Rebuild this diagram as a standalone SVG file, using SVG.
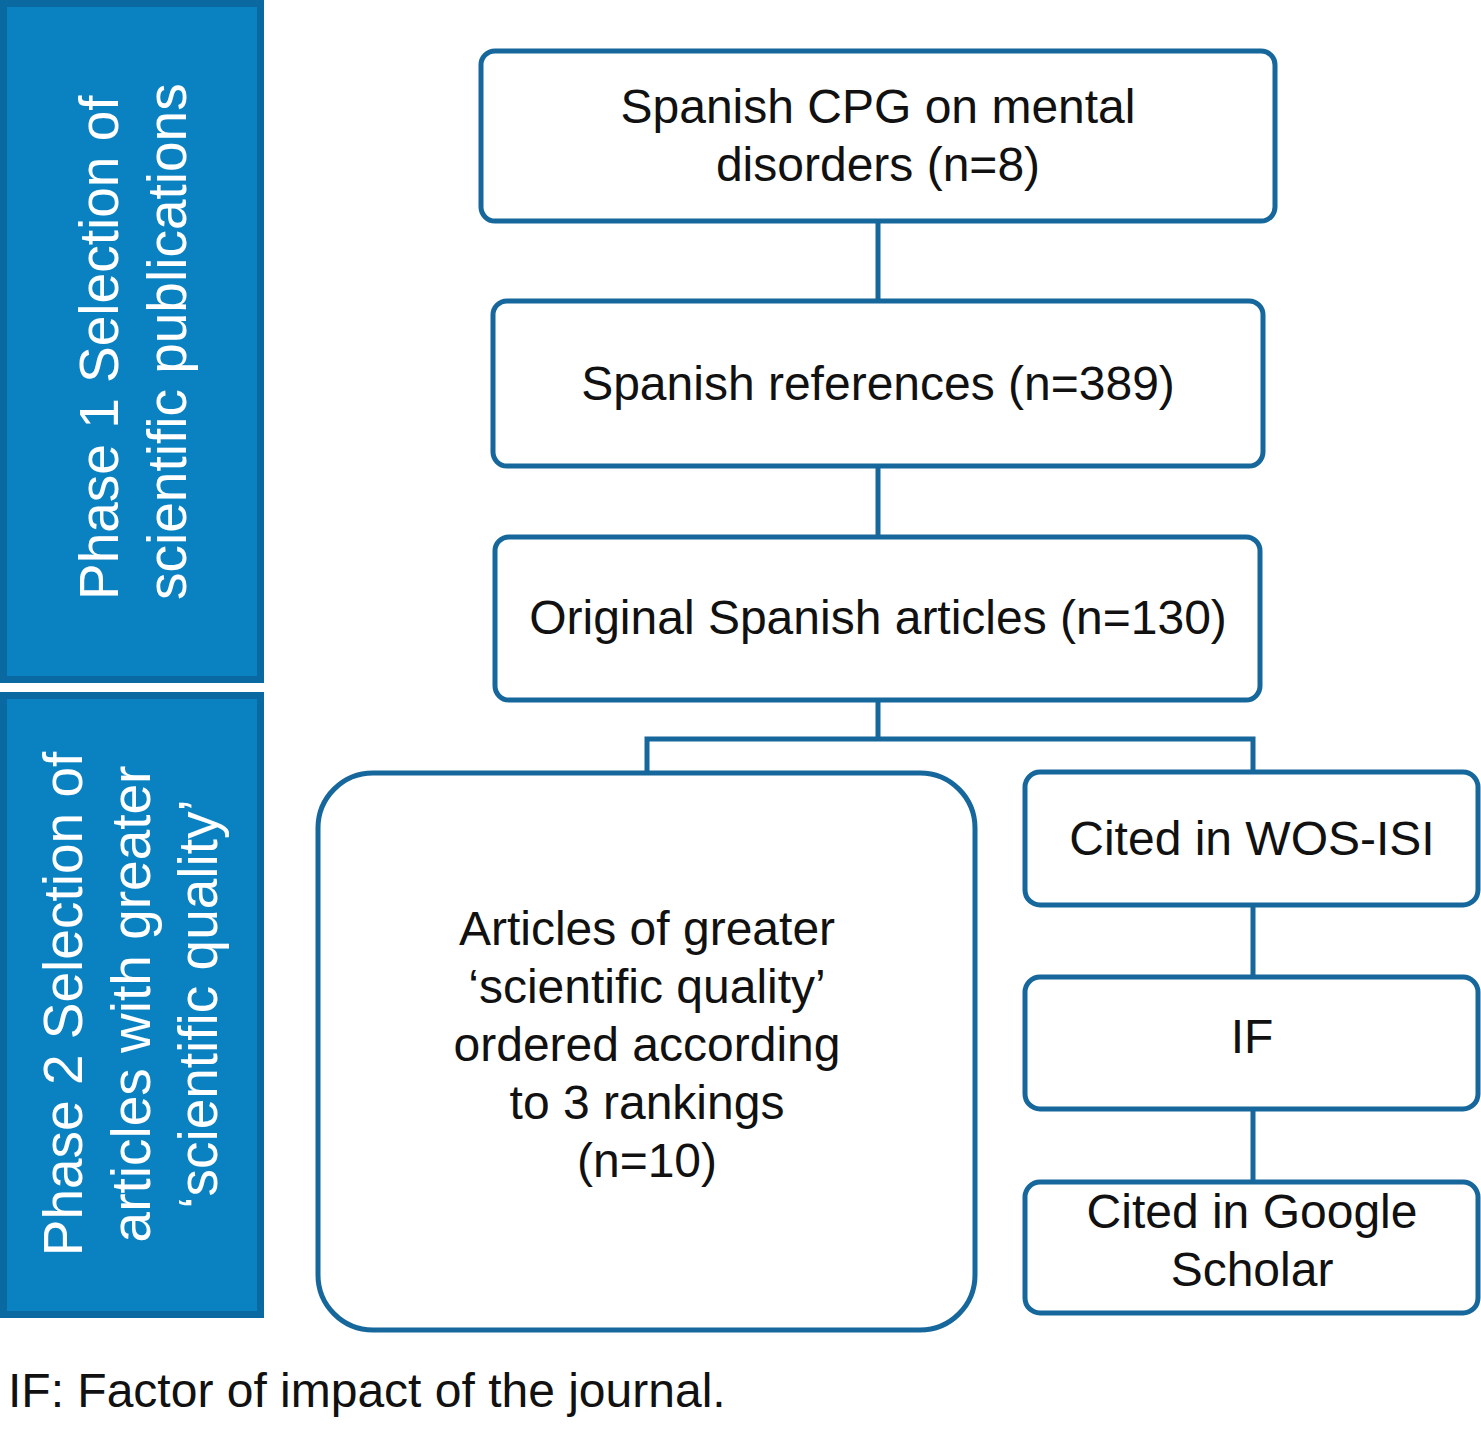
<svg xmlns="http://www.w3.org/2000/svg" width="1481" height="1432" viewBox="0 0 1481 1432">
<style>
.box{fill:#fff;stroke:#16679c;stroke-width:5}
.panel{fill:#0a82c2;stroke:#0b69a1;stroke-width:7}
.conn{fill:none;stroke:#16679c;stroke-width:5}
.t{font-family:"Liberation Sans",Arial,Helvetica,sans-serif;font-size:48px;fill:#111;text-anchor:middle}
.p{font-family:"Liberation Sans",Arial,Helvetica,sans-serif;font-size:55px;fill:#fff}
</style>
<rect width="1481" height="1432" fill="#fff"/>
<g id="phase1">
<rect class="panel" x="3.5" y="3.5" width="257" height="676"/>
<text class="p" transform="translate(118,600) rotate(-90)">Phase 1 Selection of</text>
<text class="p" transform="translate(186,600) rotate(-90)">scientific publications</text>
</g>
<g id="phase2">
<rect class="panel" x="3.5" y="695.5" width="257" height="619"/>
<text class="p" text-anchor="middle" transform="translate(82,1004) rotate(-90)">Phase 2 Selection of</text>
<text class="p" text-anchor="middle" transform="translate(150,1004) rotate(-90)">articles with greater</text>
<text class="p" text-anchor="middle" transform="translate(217,1004) rotate(-90)">‘scientific quality’</text>
</g>
<g id="connectors">
<line class="conn" x1="878" y1="221" x2="878" y2="301"/>
<line class="conn" x1="878" y1="466" x2="878" y2="537"/>
<polyline class="conn" points="647,773 647,739 1253,739 1253,772"/>
<line class="conn" x1="878" y1="700" x2="878" y2="739"/>
<line class="conn" x1="1253" y1="905" x2="1253" y2="977"/>
<line class="conn" x1="1253" y1="1109" x2="1253" y2="1182"/>
</g>
<g id="cpg">
<rect class="box" x="481" y="51" width="794" height="170" rx="14"/>
<text class="t" x="878" y="123">Spanish CPG on mental</text>
<text class="t" x="878" y="181">disorders (n=8)</text>
</g>
<g id="refs">
<rect class="box" x="493" y="301" width="770" height="165" rx="14"/>
<text class="t" x="878" y="400">Spanish references (n=389)</text>
</g>
<g id="original">
<rect class="box" x="495" y="537" width="765" height="163" rx="14"/>
<text class="t" x="878" y="634">Original Spanish articles (n=130)</text>
</g>
<g id="quality">
<rect class="box" x="318" y="773" width="657" height="557" rx="55"/>
<text class="t" x="647" y="945">Articles of greater</text>
<text class="t" x="647" y="1003">‘scientific quality’</text>
<text class="t" x="647" y="1061">ordered according</text>
<text class="t" x="647" y="1119">to 3 rankings</text>
<text class="t" x="647" y="1177">(n=10)</text>
</g>
<g id="wos">
<rect class="box" x="1025" y="772" width="453" height="133" rx="15"/>
<text class="t" x="1252" y="855">Cited in WOS-ISI</text>
</g>
<g id="if">
<rect class="box" x="1025" y="977" width="453" height="132" rx="15"/>
<text class="t" x="1252" y="1053">IF</text>
</g>
<g id="google">
<rect class="box" x="1025" y="1182" width="453" height="131" rx="15"/>
<text class="t" x="1252" y="1228">Cited in Google</text>
<text class="t" x="1252" y="1286">Scholar</text>
</g>
<text class="t" x="8" y="1407" style="text-anchor:start">IF: Factor of impact of the journal.</text>
</svg>
